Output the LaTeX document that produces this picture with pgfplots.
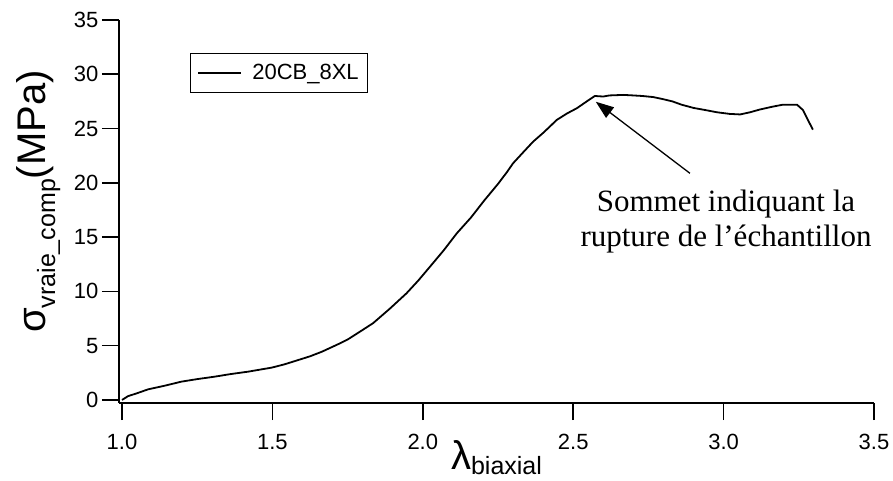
\documentclass[border=0pt]{standalone}
\usepackage{fontspec}
\setmainfont{Liberation Sans}
\newfontfamily\timesfont{Liberation Serif}
\usepackage{pgfplots}
\pgfplotsset{compat=1.18}
\usetikzlibrary{arrows.meta}

\begin{document}
\begin{tikzpicture}
\begin{axis}[
  scale only axis,
  width=755pt, height=383pt,
  xmin=0.99, xmax=3.5,
  ymin=-0.28, ymax=35,
  axis lines*=left,
  axis line style={line width=1.6pt},
  xtick={1,1.5,2,2.5,3,3.5},
  ytick={0,5,10,15,20,25,30,35},
  tick align=outside,
  major tick length=17pt,
  tick style={line width=1.6pt, black},
  /pgf/number format/assume math mode=true,
  xticklabel style={font=\fontsize{22}{26}\selectfont, yshift=-11pt,
    /pgf/number format/.cd, fixed, fixed zerofill, precision=1},
  yticklabel style={font=\fontsize{22}{26}\selectfont},
  xlabel={{\fontsize{40}{44}\selectfont λ}\raisebox{-5pt}{\fontsize{25}{28}\selectfont biaxial}},
  xlabel style={at={(axis description cs:0.5,0)}, anchor=center, yshift=-55pt},
  ylabel={{\fontsize{40}{44}\selectfont σ}\raisebox{-10pt}{\fontsize{25}{28}\selectfont vraie\_comp}{\fontsize{40}{44}\selectfont (MPa)}},
  ylabel style={at={(axis description cs:-0.107,0.526)}, anchor=center},
  legend style={at={(axis description cs:0.094,0.914)}, anchor=north west,
    draw=black, line width=1.3pt, font=\fontsize{22}{26}\selectfont,
    inner xsep=7pt, inner ysep=9pt},
  legend image code/.code={\draw[line width=1.6pt] (0pt,0pt) -- (43pt,0pt); \path (51pt,0pt);},
]
\addplot[black, line width=1.8pt] coordinates {
(1.000,0.00) (1.020,0.35) (1.050,0.62) (1.087,0.98) (1.140,1.30)
(1.198,1.69) (1.250,1.92) (1.309,2.15) (1.360,2.38) (1.420,2.61)
(1.460,2.80) (1.498,2.98) (1.540,3.28) (1.586,3.68) (1.625,4.02)
(1.665,4.45) (1.725,5.22) (1.752,5.60) (1.800,6.45) (1.835,7.08)
(1.890,8.40) (1.946,9.83) (1.985,11.00) (2.024,12.28) (2.070,13.80)
(2.113,15.35) (2.160,16.80) (2.205,18.40) (2.250,19.90) (2.280,21.00)
(2.300,21.80) (2.340,23.00) (2.367,23.80) (2.400,24.60) (2.423,25.20)
(2.445,25.79) (2.480,26.40) (2.512,26.87) (2.545,27.50) (2.572,28.00)
(2.600,27.95) (2.620,28.05) (2.667,28.10) (2.700,28.05) (2.730,28.00)
(2.766,27.90) (2.800,27.70) (2.830,27.50) (2.860,27.20) (2.900,26.90)
(2.940,26.70) (2.978,26.50) (3.020,26.35) (3.055,26.30) (3.088,26.50)
(3.120,26.75) (3.160,27.00) (3.197,27.20) (3.244,27.20) (3.264,26.70)
(3.280,25.80) (3.297,24.90)
};
\addlegendentry{20CB\_8XL}
\draw[-{Triangle[length=18pt,width=13pt]}, line width=1.3pt]
  (axis cs:2.888,20.88) -- (axis cs:2.575,27.47);
\node[align=center, font=\timesfont\fontsize{31}{35}\selectfont]
  at (axis cs:3.008,16.4) {Sommet indiquant la\\rupture de l’échantillon};
\end{axis}
\pgfresetboundingbox
\path (-119pt,-78pt) rectangle (774pt,403pt);
\end{tikzpicture}
\end{document}
